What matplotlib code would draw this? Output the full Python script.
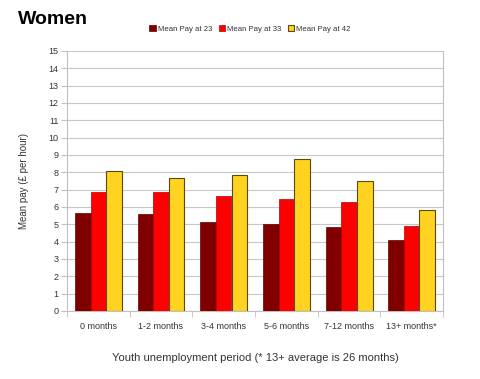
import matplotlib.pyplot as plt
import numpy as np

plt.rcParams['font.family'] = ['Liberation Sans', 'DejaVu Sans']

categories = ["0 months", "1-2 months", "3-4 months", "5-6 months", "7-12 months", "13+ months*"]
pay_23 = [5.68, 5.58, 5.16, 5.00, 4.82, 4.12]
pay_33 = [6.85, 6.85, 6.66, 6.48, 6.31, 4.93]
pay_42 = [8.06, 7.65, 7.85, 8.77, 7.50, 5.81]
series_labels = ["Mean Pay at 23", "Mean Pay at 33", "Mean Pay at 42"]

fig = plt.figure(figsize=(4.8, 3.79), dpi=100)
ax = fig.add_axes([67 / 480, 1 - 311 / 379, (443 - 67) / 480, (311 - 51) / 379])

x = np.arange(len(categories))
w = 0.25
ax.bar(x - w, pay_23, w, color='#800000', edgecolor='#5a0000', linewidth=0.5, label=series_labels[0], zorder=3)
ax.bar(x, pay_33, w, color='#ff0000', edgecolor='#b00000', linewidth=0.5, label=series_labels[1], zorder=3)
ax.bar(x + w, pay_42, w, color='#ffd320', edgecolor='#5a4a10', linewidth=0.8, label=series_labels[2], zorder=3)

ax.set_xlim(-0.5, len(categories) - 0.5)
ax.set_ylim(0, 15)
ax.set_yticks(range(0, 16))
ax.set_xticks(x)
ax.set_xticklabels(categories)
ax.set_xticks(np.arange(-0.5, len(categories)), minor=True)
ax.tick_params(axis='x', which='major', length=0, labelsize=6.5, colors='#333333', pad=8)
ax.tick_params(axis='x', which='minor', length=4, color='#c0c0c0')
ax.tick_params(axis='y', length=4, color='#c0c0c0', labelsize=6.5, labelcolor='#333333', pad=2)
ax.yaxis.grid(True, color='#c8c8c8', linewidth=0.8, zorder=0)
for s in ['left', 'bottom', 'right']:
    ax.spines[s].set_color('#c0c0c0')
ax.spines['top'].set_visible(False)

ax.set_ylabel("Mean pay (£ per hour)", fontsize=7, color='#333333', labelpad=14)
ax.set_xlabel("Youth unemployment period (* 13+ average is 26 months)", fontsize=8, color='#333333', labelpad=16)

fig.text(18 / 480, 1 - 20 / 379, "Women", fontsize=14, fontweight='bold', va='center', ha='left')
leg = fig.legend(loc='center', bbox_to_anchor=(250 / 480, 1 - 29 / 379), ncol=3, frameon=False,
                 fontsize=5.6, handlelength=0.8, handleheight=0.8, handletextpad=0.3, columnspacing=0.8)
for t in leg.get_texts():
    t.set_color('#333333')

fig.savefig('out.png', dpi=100)
